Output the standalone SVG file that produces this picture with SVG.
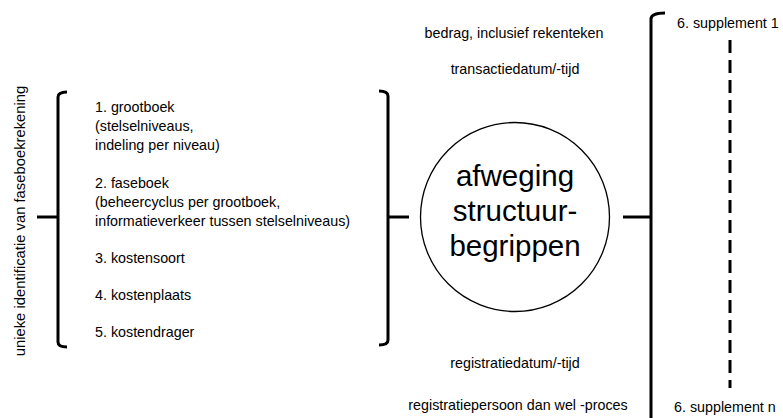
<svg xmlns="http://www.w3.org/2000/svg" width="783" height="418" viewBox="0 0 783 418">
  <style>
    text { font-family: "Liberation Sans", Arial, sans-serif; fill: #000; }
    .lbl { font-size: 14.3px; }
    .mid { font-size: 14.3px; text-anchor: middle; }
    .big { font-size: 29.5px; text-anchor: middle; }
    .brace { fill: none; stroke: #000; stroke-width: 3; stroke-linecap: butt; }
    .tick { fill: none; stroke: #000; stroke-width: 3; }
  </style>
  <rect width="783" height="418" fill="#fff"/>

  <!-- rotated side label -->
  <g id="side-label">
    <text class="lbl" transform="translate(25,221) rotate(-90)" text-anchor="middle" style="font-size:14.8px">unieke identificatie van faseboekrekening</text>
  </g>

  <!-- left group: structure items 1-5 -->
  <g id="items">
    <text class="lbl" x="95" y="112">1. grootboek</text>
    <text class="lbl" x="95" y="131">(stelselniveaus,</text>
    <text class="lbl" x="95" y="150">indeling per niveau)</text>
    <text class="lbl" x="95" y="188">2. faseboek</text>
    <text class="lbl" x="95" y="207">(beheercyclus per grootboek,</text>
    <text class="lbl" x="95" y="226">informatieverkeer tussen stelselniveaus)</text>
    <text class="lbl" x="95" y="263">3. kostensoort</text>
    <text class="lbl" x="95" y="300">4. kostenplaats</text>
    <text class="lbl" x="95" y="337">5. kostendrager</text>
  </g>

  <!-- central node -->
  <g id="center">
    <circle cx="515" cy="217" r="94.5" fill="#fff" stroke="#000" stroke-width="1.3"/>
    <text class="big" x="515" y="186">afweging</text>
    <text class="big" x="515" y="221">structuur-</text>
    <text class="big" x="515" y="256">begrippen</text>
  </g>

  <!-- attributes above and below the centre -->
  <g id="attributes">
    <text class="mid" x="514" y="38">bedrag, inclusief rekenteken</text>
    <text class="mid" x="515" y="74">transactiedatum/-tijd</text>
    <text class="mid" x="515" y="368">registratiedatum/-tijd</text>
    <text class="mid" x="518" y="410">registratiepersoon dan wel -proces</text>
  </g>

  <!-- supplements -->
  <g id="supplements">
    <text class="lbl" x="677" y="28">6. supplement 1</text>
    <text class="lbl" x="674" y="412">6. supplement n</text>
  </g>

  <!-- brackets, ticks and the dashed range -->
  <g id="connectors">
    <path class="brace" d="M67,92 Q58,92 58,97 V342 Q58,347 67,347"/>
    <path class="tick" d="M37,217 H58"/>
    <path class="brace" d="M379,91 Q388,91 388,96 V340 Q388,345 379,345"/>
    <path class="tick" d="M388,217 H409"/>
    <path class="brace" d="M665,13 Q651,13 651,19 V420"/>
    <path class="tick" d="M623,217 H651"/>
    <path d="M730,40 V388" fill="none" stroke="#000" stroke-width="3" stroke-dasharray="13 7"/>
  </g>
</svg>
